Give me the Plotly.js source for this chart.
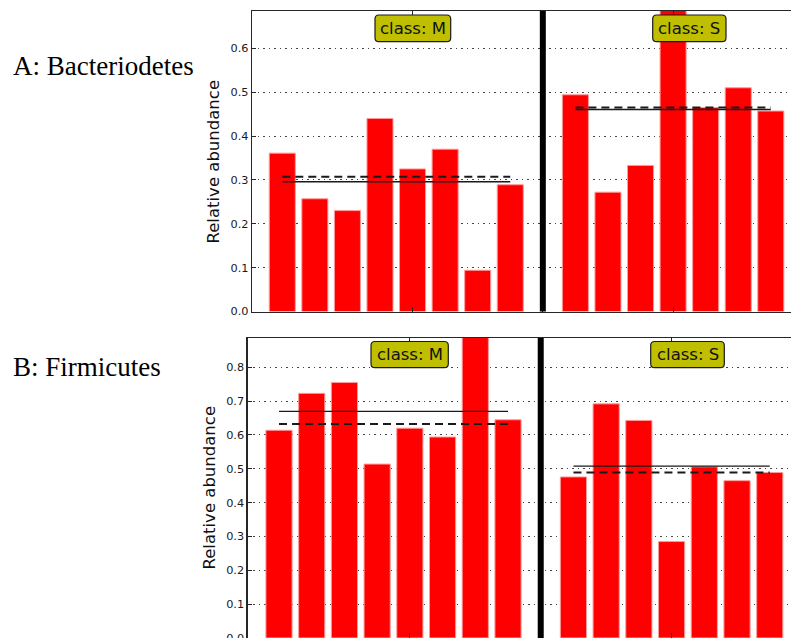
<!DOCTYPE html>
<html>
<head>
<meta charset="utf-8">
<script src="https://cdn.plot.ly/plotly-3.0.1.min.js"></script>
<style>html,body{margin:0;padding:0;background:#fff;}#chart{width:791px;height:638px;}</style>
</head>
<body>
<div id="chart"></div>
<script>
// ---- data ----
const groupLabels = ["class: M", "class: S"];
const panelTitles = ["A: Bacteriodetes", "B: Firmicutes"];
const yTitle = "Relative abundance";
// sample positions along the x axis (index 8 is the group separator)
const posM = [0, 1, 2, 3, 4, 5, 6, 7];
const posS = [9, 10, 11, 12, 13, 14, 15];
const separatorPos = 8;
// A: Bacteriodetes
const bactM = [0.361, 0.257, 0.230, 0.440, 0.325, 0.370, 0.094, 0.289];
const bactS = [0.494, 0.272, 0.333, 0.692, 0.465, 0.510, 0.457];
// B: Firmicutes
const firmM = [0.614, 0.723, 0.755, 0.514, 0.620, 0.594, 0.895, 0.645];
const firmS = [0.476, 0.692, 0.643, 0.285, 0.506, 0.465, 0.489];
const yTicksA = [0, 0.1, 0.2, 0.3, 0.4, 0.5, 0.6];
const yTicksB = [0, 0.1, 0.2, 0.3, 0.4, 0.5, 0.6, 0.7, 0.8];

// ---- helpers ----
const W = 791, H = 638;
const fx = p => p / W;
const fy = p => 1 - p / H;
const mean = a => a.reduce((s, v) => s + v, 0) / a.length;
const median = a => { const s = [...a].sort((p, q) => p - q); const n = s.length; return n % 2 ? s[(n - 1) / 2] : (s[n / 2 - 1] + s[n / 2]) / 2; };

function rrect(x0, y0, x1, y1, r) {
  const P = (x, y) => fx(x).toFixed(5) + "," + fy(y).toFixed(5);
  return "M" + P(x0 + r, y0) + " L" + P(x1 - r, y0) + " Q" + P(x1, y0) + " " + P(x1, y0 + r) +
    " L" + P(x1, y1 - r) + " Q" + P(x1, y1) + " " + P(x1 - r, y1) +
    " L" + P(x0 + r, y1) + " Q" + P(x0, y1) + " " + P(x0, y1 - r) +
    " L" + P(x0, y0 + r) + " Q" + P(x0, y0) + " " + P(x0 + r, y0) + " Z";
}

const barStyle = { color: "#ff0000", line: { color: "#ff9a9a", width: 1 } };
const traces = [];
function addPanel(xa, ya, m, s) {
  traces.push({ type: "bar", x: posM, y: m, xaxis: xa, yaxis: ya, width: 0.8, marker: barStyle, showlegend: false, hoverinfo: "y" });
  traces.push({ type: "bar", x: posS, y: s, xaxis: xa, yaxis: ya, width: 0.8, marker: barStyle, showlegend: false, hoverinfo: "y" });
  [[posM, m], [posS, s]].forEach(([p, v]) => {
    const x = [p[0], p[p.length - 1]];
    traces.push({ type: "scatter", mode: "lines", x: x, y: [mean(v), mean(v)], xaxis: xa, yaxis: ya,
      line: { color: "#1a1a1a", width: 1.3 }, showlegend: false, hoverinfo: "skip" });
    traces.push({ type: "scatter", mode: "lines", x: x, y: [median(v), median(v)], xaxis: xa, yaxis: ya,
      line: { color: "#1a1a1a", width: 2, dash: "8px,5px" }, showlegend: false, hoverinfo: "skip" });
  });
}
addPanel("x", "y", bactM, bactS);
addPanel("x2", "y2", firmM, firmS);

const font = "DejaVu Sans, sans-serif";
function xAxis(domain, range, anchor) {
  return { domain: domain, range: range, anchor: anchor, showgrid: false, zeroline: false,
    showline: true, linecolor: "#262626", linewidth: 1.3, mirror: "ticks",
    ticks: "inside", ticklen: 5, tickwidth: 1, tickcolor: "#262626",
    tickvals: [4, 8, 12], ticktext: ["", "", ""], fixedrange: true };
}
function yAxis(domain, range, ticks, anchor) {
  return { domain: domain, range: range, anchor: anchor, zeroline: false,
    showline: true, linecolor: "#262626", linewidth: 1.3,
    ticks: "inside", ticklen: 4, tickwidth: 1, tickcolor: "#262626",
    tickvals: ticks, ticktext: ticks.map(v => v.toFixed(1)), ticklabeloverflow: "allow",
    tickfont: { family: font, size: 11.3, color: "#1a1a1a" },
    showgrid: true, gridcolor: "#444", gridwidth: 1, griddash: "1.5px,4px", fixedrange: true };
}

const shapes = [
  { type: "line", xref: "x", yref: "y domain", x0: separatorPos, x1: separatorPos, y0: 0, y1: 1, line: { color: "#000", width: 6 } },
  { type: "line", xref: "x2", yref: "y2 domain", x0: separatorPos, x1: separatorPos, y0: 0, y1: 1, line: { color: "#000", width: 6 } }
];
const boxes = [
  [375, 15, 450.7, 41.7, groupLabels[0]],
  [652.7, 15, 726, 41.7, groupLabels[1]],
  [371, 341.5, 448.3, 367.7, groupLabels[0]],
  [650.7, 341.5, 724.3, 367.7, groupLabels[1]]
];
const annotations = [];
boxes.forEach(b => {
  shapes.push({ type: "path", xref: "paper", yref: "paper", path: rrect(b[0], b[1], b[2], b[3], 4),
    fillcolor: "#bfbf00", line: { color: "#1a1a1a", width: 1.2 }, layer: "above" });
  annotations.push({ xref: "paper", yref: "paper", x: fx((b[0] + b[2]) / 2), y: fy((b[1] + b[3]) / 2),
    xanchor: "center", yanchor: "middle", text: b[4], showarrow: false,
    font: { family: font, size: 16.5, color: "#111" } });
});
annotations.push({ xref: "paper", yref: "paper", x: fx(11), y: fy(65.5), xanchor: "left", yanchor: "middle",
  text: panelTitles[0], showarrow: false, font: { family: "Liberation Serif, Times New Roman, serif", size: 27, color: "#000" } });
annotations.push({ xref: "paper", yref: "paper", x: fx(11), y: fy(366.5), xanchor: "left", yanchor: "middle",
  text: panelTitles[1], showarrow: false, font: { family: "Liberation Serif, Times New Roman, serif", size: 27, color: "#000" } });
annotations.push({ xref: "paper", yref: "paper", x: fx(213.5), y: fy(161), xanchor: "center", yanchor: "middle",
  text: yTitle, textangle: -90, showarrow: false, font: { family: font, size: 16.5, color: "#111" } });
annotations.push({ xref: "paper", yref: "paper", x: fx(208.5), y: fy(488), xanchor: "center", yanchor: "middle",
  text: yTitle, textangle: -90, showarrow: false, font: { family: font, size: 16.5, color: "#111" } });

const layout = {
  width: W, height: H,
  margin: { l: 0, r: 0, t: 0, b: 0 },
  paper_bgcolor: "#fff", plot_bgcolor: "#fff",
  bargap: 0, barmode: "overlay",
  showlegend: false,
  xaxis: xAxis([fx(252), 1], [-0.930, 15.62], "y"),
  yaxis: yAxis([fy(311.5), fy(11)], [0, 0.685], yTicksA, "x"),
  xaxis2: xAxis([fx(247.7), 1], [-0.957, 15.65], "y2"),
  yaxis2: yAxis([0, fy(338)], [0, 0.8866], yTicksB, "x2"),
  shapes: shapes,
  annotations: annotations
};
Plotly.newPlot("chart", traces, layout, { displayModeBar: false, staticPlot: true });
</script>
</body>
</html>
